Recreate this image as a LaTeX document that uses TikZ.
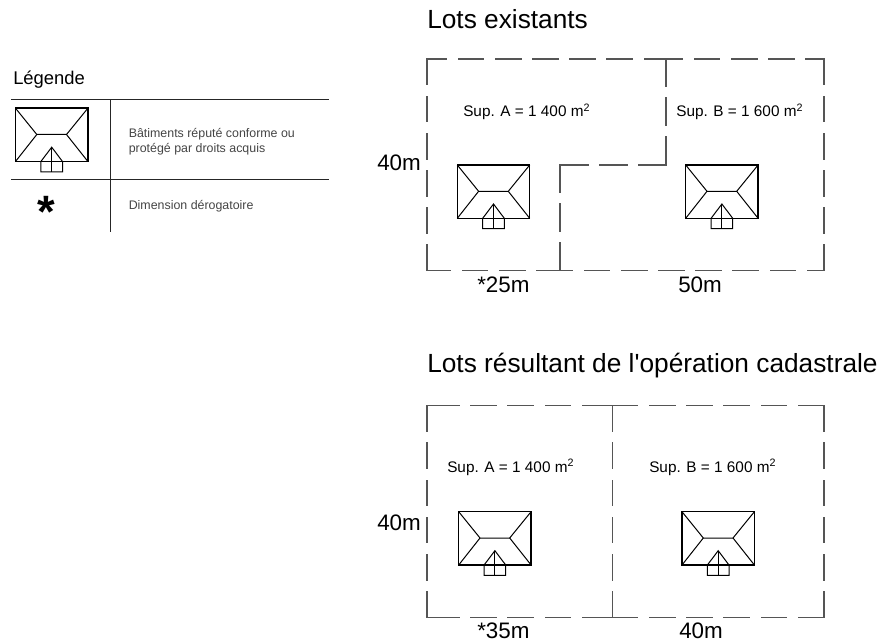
\documentclass[tikz,border=0pt]{standalone}
\usepackage{fontspec}
\setmainfont{Liberation Sans}
\newfontfamily\plainquote{Liberation Sans}
\definecolor{lotgray}{HTML}{555555}
\definecolor{notegray}{HTML}{444444}
\tikzset{
    lot/.style={color=lotgray, line width=0.8pt, line cap=rect, dash pattern=on 19.2pt off 8.7pt},
    lotstub/.style={color=lotgray, line width=0.8pt, line cap=rect},
    rule/.style={color=black!85, line width=0.85pt},
    title/.style={anchor=base west, inner sep=0pt, font=\fontsize{19.7pt}{22pt}\selectfont},
    dim/.style={anchor=base west, inner sep=0pt, font=\fontsize{16.8pt}{18pt}\selectfont},
    sup/.style={anchor=base west, inner sep=0pt, font=\fontsize{11.5pt}{12pt}\selectfont},
    note/.style={anchor=west, inner sep=0pt, align=left, color=notegray, font=\fontsize{9.3pt}{11.4pt}\selectfont},
    building/.pic={
        \draw[line width=1.1pt, line join=miter] (0,0) rectangle (72.4,53.3);
        \draw[line width=0.75pt] (0,0) -- (21.3,26.3) -- (51,26.3) -- (72.4,0);
        \draw[line width=0.75pt] (0,53.3) -- (21.3,26.3);
        \draw[line width=0.75pt] (72.4,53.3) -- (51,26.3);
        \draw[line width=0.75pt] (25.4,53.3) -- (25.4,63.7) -- (47,63.7) -- (47,53.3) -- (36.2,39) -- cycle;
        \draw[line width=0.75pt] (36.2,39) -- (36.2,63.7);
    }
}
\begin{document}
\begin{tikzpicture}[x=0.75pt, y=-0.75pt]
    \useasboundingbox (0,0) rectangle (879,642);

    % legend
    \node[title, font=\fontsize{13.8pt}{16pt}\selectfont] (legendtitle) at (13,85) {Légende};
    \coordinate (ruletopleft) at (11,99.7);
    \coordinate (ruletopright) at (329,99.7);
    \coordinate (rulemidleft) at (11,179.3);
    \coordinate (rulemidright) at (329,179.3);
    \coordinate (ruletop) at (110.5,99.7);
    \coordinate (rulebottom) at (110.5,231.7);
    \draw[rule] (ruletopleft) -- (ruletopright);
    \draw[rule] (rulemidleft) -- (rulemidright);
    \draw[rule] (ruletop) -- (rulebottom);
    \pic at (15.5,108.2) {building};
    \node[inner sep=0pt, font=\fontsize{34pt}{34pt}\selectfont\bfseries] (legendstar) at (46,212) {*};
    \node[note] (legendbuilding) at (128.5,141.5) {Bâtiments réputé conforme ou\\protégé par droits acquis};
    \node[note] (legenddim) at (128.5,206.5) {Dimension dérogatoire};

    % lots existants
    \node[title] (titletop) at (427,29) {Lots existants};
    \draw[lot] (427,59) -- (427,270.5);
    \draw[lot] (824,59) -- (824,270.5);
    \draw[lot, dash phase=4.5pt] (427,59) -- (666,59);
    \draw[lot, dash phase=6.75pt] (666,59) -- (824,59);
    \draw[lot, dash phase=1.5pt] (427,270.5) -- (560,270.5);
    \draw[lot, dash phase=9.75pt] (560,270.5) -- (824,270.5);
    \draw[lot, dash pattern=on 20.6pt off 8.65pt on 20.6pt off 8.65pt on 41.6pt off 8.65pt on 20.6pt off 8.65pt on 41.6pt off 8.65pt on 20.6pt off 8.65pt on 21pt off 0pt]
        (666,59) -- (666,165) -- (560,165) -- (560,270.5);
    \pic at (457.3,165) {building};
    \pic at (685.7,165) {building};
    \node[sup] (supAtop) at (463,117) {Sup. A = 1 400 m\textsuperscript{2}};
    \node[sup] (supBtop) at (676,117) {Sup. B = 1 600 m\textsuperscript{2}};
    \node[dim] (heighttop) at (377,170.7) {40m};
    \node[dim] (widthAtop) at (477,292) {*25m};
    \node[dim] (widthBtop) at (678,292) {50m};

    % lots resultants
    \node[title] (titlebottom) at (427,372) {Lots résultant de l{\plainquote '}opération cadastrale};
    \draw[lot] (427,405.7) -- (427,617.7);
    \draw[lot] (612.3,405.7) -- (612.3,617.7);
    \draw[lot] (824,405.7) -- (824,617.7);
    \draw[lot] (608,405.7) -- (433,405.7);
    \draw[lot] (612.3,405.7) -- (824,405.7);
    \draw[lot] (608,617.7) -- (433,617.7);
    \draw[lot] (612.3,617.7) -- (824,617.7);
    \draw[lotstub] (427,405.7) -- (433,405.7);
    \draw[lotstub] (608,405.7) -- (612.3,405.7);
    \draw[lotstub] (427,617.7) -- (433,617.7);
    \draw[lotstub] (608,617.7) -- (612.3,617.7);
    \pic at (458.7,511.7) {building};
    \pic at (682,511.7) {building};
    \node[sup] (supAbot) at (447,472.7) {Sup. A = 1 400 m\textsuperscript{2}};
    \node[sup] (supBbot) at (649,472.7) {Sup. B = 1 600 m\textsuperscript{2}};
    \node[dim] (heightbot) at (377,530.7) {40m};
    \node[dim] (widthAbot) at (477,638) {*35m};
    \node[dim] (widthBbot) at (679,638) {40m};
\end{tikzpicture}
\end{document}
